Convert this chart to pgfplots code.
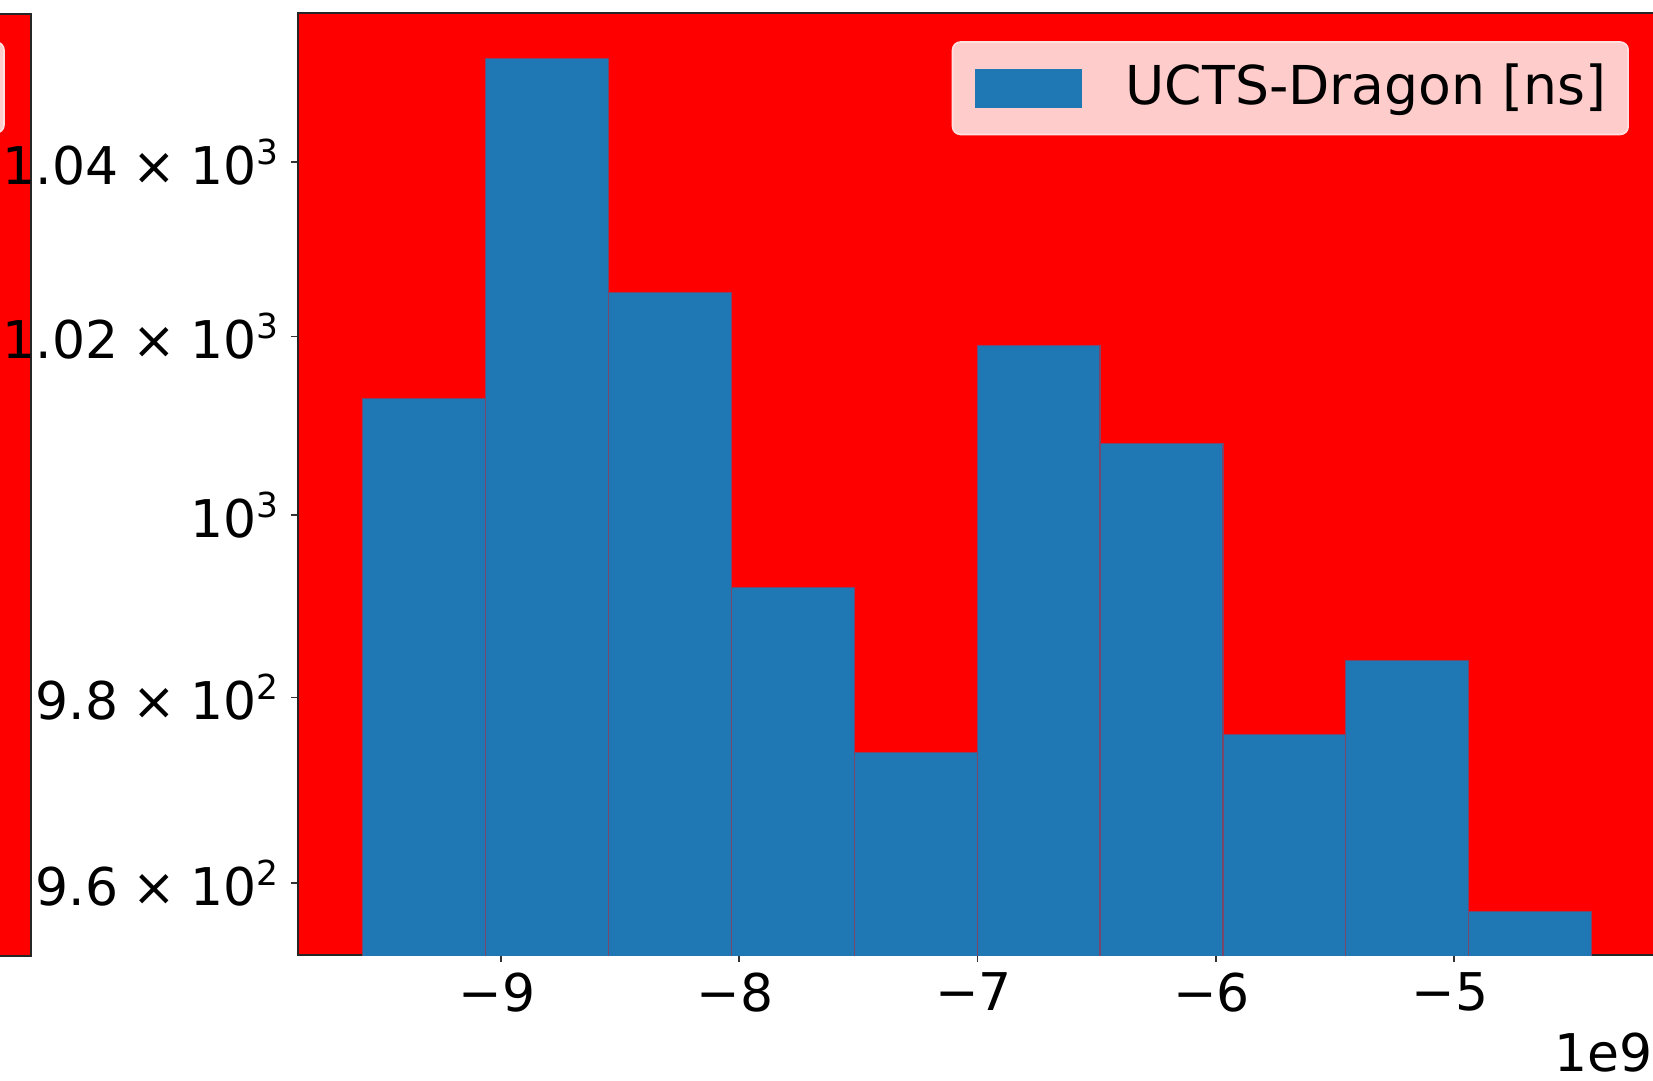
\documentclass[border=0pt]{standalone}
\usepackage{fontspec}
\setmainfont{DejaVu Sans}
\usepackage{pgfplots}
\pgfplotsset{compat=1.18}
\definecolor{c0}{HTML}{1F77B4}
\definecolor{legfill}{RGB}{255,204,204}
\definecolor{legdraw}{RGB}{255,225,225}
\newcommand{\sci}[2]{#1\hspace{3.5pt}×\hspace{3.5pt}10\raisebox{5pt}{\fontsize{8.6}{9}\selectfont #2}}
\begin{document}
\fontsize{13}{15.6}\selectfont
\begin{tikzpicture}
\clip (0pt,0pt) rectangle (413.25pt,270.25pt);
% neighbouring axis (cropped on the left)
\begin{axis}[
  at={(7.75pt,31.25pt)}, anchor=south east,
  width=100pt, height=235.5pt, scale only axis,
  xmin=0, xmax=1, ymin=0, ymax=1,
  axis background/.style={fill=red},
  axis line style={line width=0.6pt, black!85},
  xtick=\empty, ytick=\empty,
]
\end{axis}
\draw[fill=legfill, draw=legdraw, line width=0.4pt, rounded corners=2pt] (-20pt,237pt) rectangle (1pt,259.75pt);
% main axis
\begin{axis}[
  at={(74.5pt,31.25pt)}, anchor=south west,
  width=339.5pt, height=235.5pt, scale only axis,
  xmin=-9.852, xmax=-4.152,
  ymode=log, ymin=952.37, ymax=1057.26,
  axis background/.style={fill=red},
  axis line style={line width=0.6pt, black!85},
  tick align=outside, tick pos=left,
  major tick length=1.75pt,
  every tick/.style={black!80, line width=0.4pt},
  yminorticks=false,
  scaled x ticks=false,
  xtick={-9,-8,-7,-6,-5},
  xticklabels={−9,−8,−7,−6,−5},
  ytick={960,980,1000,1020,1040},
  yticklabels={\sci{9.6}{2},\sci{9.8}{2},10\raisebox{5pt}{\fontsize{8.6}{9}\selectfont 3},\sci{1.02}{3},\sci{1.04}{3}},
  xticklabel style={inner sep=0pt, anchor=north, yshift=-2.5pt, xshift=-1pt},
  yticklabel style={inner sep=0pt, anchor=east, xshift=-3pt},
  legend style={at={(1,1)}, anchor=north east, xshift=-6.75pt, yshift=-7pt,
    fill=legfill, draw=legdraw, line width=0.4pt, rounded corners=2pt,
    inner xsep=5.5pt, inner ysep=5.5pt, nodes={inner sep=0pt}, font=\fontsize{13.4}{16}\selectfont},
  legend image code/.code={\fill[c0, sharp corners] (0pt,-4.75pt) rectangle (26.5pt,4.75pt); \path (37.5pt,0pt);},
]
\addplot[ybar interval, fill=c0, draw=c0!60!red, line width=0.3pt] coordinates {
(-9.5810,1013)
(-9.0651,1052)
(-8.5492,1025)
(-8.0333,992)
(-7.5174,974)
(-7.0015,1019)
(-6.4856,1008)
(-5.9697,976)
(-5.4538,984)
(-4.9379,957)
(-4.4220,957)
};
\addlegendentry{UCTS-Dragon [ns]}
\end{axis}
\node[anchor=base east, inner sep=0pt] at (413.25pt,2.25pt) {1e9};
\end{tikzpicture}
\end{document}
